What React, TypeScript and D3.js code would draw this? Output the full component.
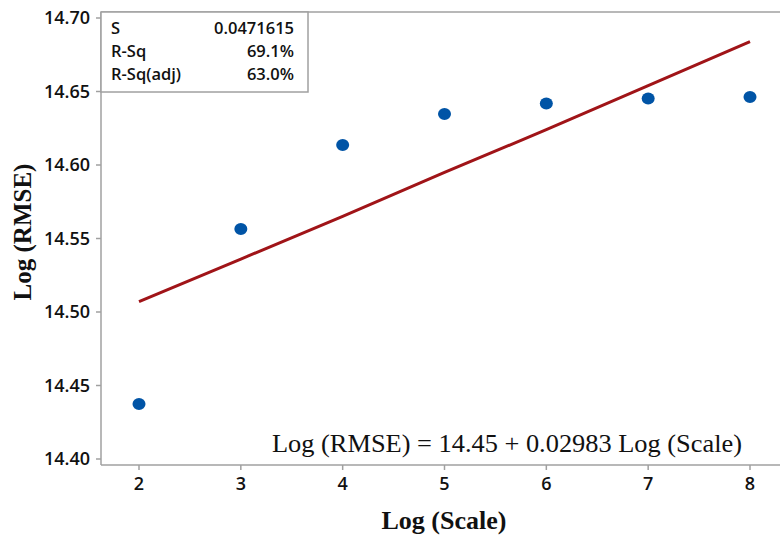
import React from "react";
import * as d3 from "d3";

const scaleX = [2, 3, 4, 5, 6, 7, 8];
const observed = [14.4374, 14.5565, 14.6136, 14.6347, 14.6418, 14.6452, 14.6463];
const fitted = [14.507, 14.536, 14.565, 14.595, 14.624, 14.654, 14.684];
const yTicks = [14.4, 14.45, 14.5, 14.55, 14.6, 14.65, 14.7];
const xTicks = [2, 3, 4, 5, 6, 7, 8];
const statLabels = ["S", "R-Sq", "R-Sq(adj)"];
const statValues = ["0.0471615", "69.1%", "63.0%"];
const equation = "Log (RMSE) = 14.45 + 0.02983 Log (Scale)";

export default function App() {
  const W = 780, H = 536;
  const x = d3.scaleLinear().domain([2, 8]).range([139, 750]);
  const y = d3.scaleLinear().domain([14.4, 14.7]).range([459, 18]);
  const left = 101, bottom = 465, top = 12, right = 780;
  const line = d3.line<number>().x((_, i) => x(scaleX[i])).y((d) => y(d));
  const tickFont = "'Open Sans', 'Noto Sans', sans-serif";
  const boxFont = "'Open Sans', 'DejaVu Sans', sans-serif";
  const serif = "'Liberation Serif', 'DejaVu Serif', serif";
  return (
    <svg width={W} height={H} style={{ position: "absolute", left: 0, top: 0, background: "#fff" }}>
      <line x1={left} x2={right} y1={top} y2={top} stroke="#a0a0a0" strokeWidth={1.5} />
      <line x1={left} x2={right} y1={bottom} y2={bottom} stroke="#a0a0a0" strokeWidth={1.5} />
      <line x1={left} x2={left} y1={top} y2={bottom} stroke="#a0a0a0" strokeWidth={1.5} />
      {yTicks.map((t) => (
        <g key={"y" + t}>
          <line x1={left - 5} x2={left} y1={y(t)} y2={y(t)} stroke="#a0a0a0" strokeWidth={1.5} />
          <text x={90} y={y(t)} dy="0.36em" textAnchor="end" fontFamily={tickFont} fontSize={18} fontWeight={600} fill="#111">
            {t.toFixed(2)}
          </text>
        </g>
      ))}
      {xTicks.map((t) => (
        <g key={"x" + t}>
          <line x1={x(t)} x2={x(t)} y1={bottom} y2={bottom + 5} stroke="#a0a0a0" strokeWidth={1.5} />
          <text x={x(t)} y={490} textAnchor="middle" fontFamily={tickFont} fontSize={18} fontWeight={600} fill="#111">
            {t}
          </text>
        </g>
      ))}
      <rect x={left} y={top} width={207} height={80} fill="#fff" stroke="#a0a0a0" strokeWidth={1.5} />
      {statLabels.map((s, i) => (
        <g key={s}>
          <text x={111} y={34 + i * 23} fontFamily={boxFont} fontSize={16.5} fontWeight={600} fill="#111">{s}</text>
          <text x={294} y={34 + i * 23} textAnchor="end" fontFamily={boxFont} fontSize={16.5} fontWeight={600} fill="#111">{statValues[i]}</text>
        </g>
      ))}
      <path d={line(fitted) || ""} fill="none" stroke="#a01418" strokeWidth={3} />
      {observed.map((v, i) => (
        <ellipse key={i} cx={x(scaleX[i])} cy={y(v)} rx={6.5} ry={6} fill="#0054a6" />
      ))}
      <text x={272} y={452} fontFamily={serif} fontSize={26} fill="#111" textLength={470} lengthAdjust="spacingAndGlyphs">{equation}</text>
      <text x={444} y={529} textAnchor="middle" fontFamily={serif} fontSize={26} fontWeight="bold" fill="#111">Log (Scale)</text>
      <text transform={`translate(31,232) rotate(-90)`} textAnchor="middle" fontFamily={serif} fontSize={25} fontWeight="bold" fill="#111">Log (RMSE)</text>
    </svg>
  );
}
